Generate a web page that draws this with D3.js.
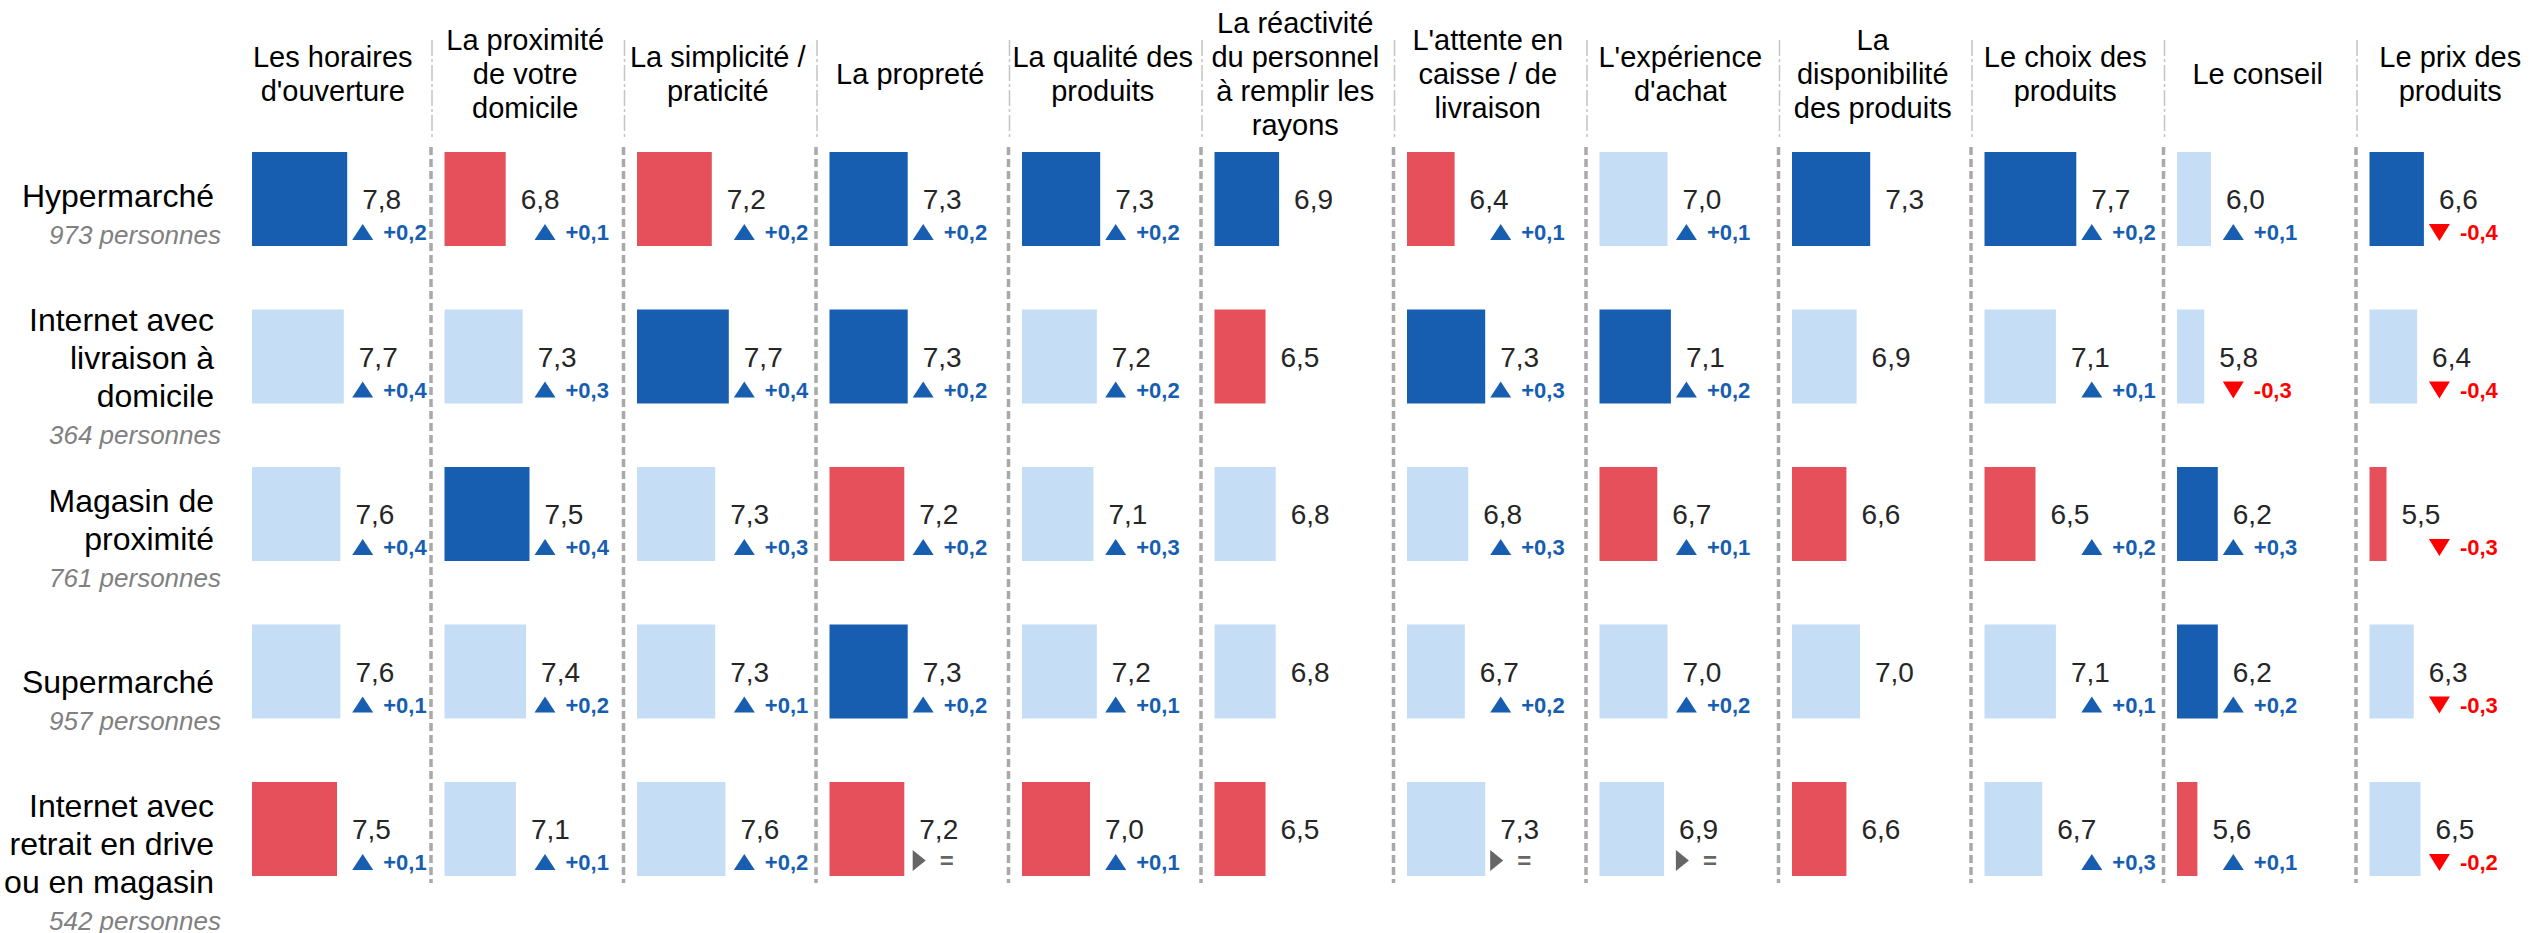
<!DOCTYPE html>
<html>
<head>
<meta charset="utf-8">
<script src="https://cdn.jsdelivr.net/npm/d3@7"></script>
<style>
  body { margin: 0; background: #fff; }
  text { font-family: "Liberation Sans", Arial, sans-serif; }
</style>
</head>
<body>
<div id="chart"></div>
<script>
// criteria (column headers, already split in lines)
const criteria = [
    ["Les horaires", "d'ouverture"],
    ["La proximité", "de votre", "domicile"],
    ["La simplicité /", "praticité"],
    ["La propreté"],
    ["La qualité des", "produits"],
    ["La réactivité", "du personnel", "à remplir les", "rayons"],
    ["L'attente en", "caisse / de", "livraison"],
    ["L'expérience", "d'achat"],
    ["La", "disponibilité", "des produits"],
    ["Le choix des", "produits"],
    ["Le conseil"],
    ["Le prix des", "produits"]
];

// store types (rows)
const storeTypes = [
    ["Hypermarché"],
    ["Internet avec", "livraison à", "domicile"],
    ["Magasin de", "proximité"],
    ["Supermarché"],
    ["Internet avec", "retrait en drive", "ou en magasin"]
];
const respondents = [973, 364, 761, 957, 542];

// scores, one row per store type
const scores = [
    [7.8, 6.8, 7.2, 7.3, 7.3, 6.9, 6.4, 7.0, 7.3, 7.7, 6.0, 6.6],
    [7.7, 7.3, 7.7, 7.3, 7.2, 6.5, 7.3, 7.1, 6.9, 7.1, 5.8, 6.4],
    [7.6, 7.5, 7.3, 7.2, 7.1, 6.8, 6.8, 6.7, 6.6, 6.5, 6.2, 5.5],
    [7.6, 7.4, 7.3, 7.3, 7.2, 6.8, 6.7, 7.0, 7.0, 7.1, 6.2, 6.3],
    [7.5, 7.1, 7.6, 7.2, 7.0, 6.5, 7.3, 6.9, 6.6, 6.7, 5.6, 6.5]
];

// evolution vs previous wave (null = not shown, 0 = stable)
const evolutions = [
    [0.2, 0.1, 0.2, 0.2, 0.2, null, 0.1, 0.1, null, 0.2, 0.1, -0.4],
    [0.4, 0.3, 0.4, 0.2, 0.2, null, 0.3, 0.2, null, 0.1, -0.3, -0.4],
    [0.4, 0.4, 0.3, 0.2, 0.3, null, 0.3, 0.1, null, 0.2, 0.3, -0.3],
    [0.1, 0.2, 0.1, 0.2, 0.1, null, 0.2, 0.2, null, 0.1, 0.2, -0.3],
    [0.1, 0.1, 0.2, 0, 0.1, null, 0, 0, null, 0.3, 0.1, -0.2]
];

// highlight: "top" = best, "low" = worst, "mid" = others
const highlights = [
    ["top", "low", "low", "top", "top", "top", "low", "mid", "top", "top", "mid", "top"],
    ["mid", "mid", "top", "top", "mid", "low", "top", "top", "mid", "mid", "mid", "mid"],
    ["mid", "top", "mid", "low", "mid", "mid", "mid", "low", "low", "low", "top", "low"],
    ["mid", "mid", "mid", "top", "mid", "mid", "mid", "mid", "mid", "mid", "top", "mid"],
    ["low", "mid", "mid", "low", "low", "low", "mid", "mid", "low", "mid", "low", "mid"]
];

const width = 2534, height = 933;
const colors = { top: "#175eb1", mid: "#c6ddf6", low: "#e5505a" };
const upColor = "#175eb1", downColor = "#ff0000", flatColor = "#666666";

const fmt = d3.format(".1f");
const fr = v => fmt(v).replace(".", ",");

const svg = d3.select("#chart")
    .append("svg")
    .attr("width", width)
    .attr("height", height);

// column band (one per criterion) and row band (one per store type)
const col = d3.scaleBand()
    .domain(d3.range(criteria.length))
    .range([238.5, 238.5 + 192.5 * criteria.length]);

const row = d3.scaleBand()
    .domain(d3.range(storeTypes.length))
    .range([152, 876])
    .paddingInner(1 - 94 / 157.5)
    .paddingOuter(0);

const x = d3.scaleLinear().domain([5, 8]).range([0, 102]);

const barOffset = 13.5;

// separators
const seps = d3.range(1, criteria.length);
svg.selectAll(".sep-head")
    .data(seps)
    .join("line")
    .attr("class", "sep-head")
    .attr("x1", i => col(i) + 1).attr("x2", i => col(i) + 1)
    .attr("y1", 40).attr("y2", 138)
    .attr("stroke", "#c4c4c4")
    .attr("stroke-width", 1.5)
    .attr("stroke-dasharray", "16,3,3,3");

svg.selectAll(".sep-body")
    .data(seps)
    .join("line")
    .attr("class", "sep-body")
    .attr("x1", i => col(i)).attr("x2", i => col(i))
    .attr("y1", 147).attr("y2", 883)
    .attr("stroke", "#a9a9a9")
    .attr("stroke-width", 3.5)
    .attr("stroke-dasharray", "8,4");

// headers
const head = svg.selectAll(".head")
    .data(criteria)
    .join("text")
    .attr("class", "head")
    .attr("text-anchor", "middle")
    .attr("font-size", 29)
    .attr("fill", "#000");
head.each(function (lines, i) {
    const cx = col(i) + col.bandwidth() / 2 - 2;
    const first = 84 - (lines.length - 1) * 34 / 2;
    d3.select(this).selectAll("tspan")
        .data(lines)
        .join("tspan")
        .attr("x", cx)
        .attr("y", (d, k) => first + k * 34)
        .text(d => d);
});

// row labels
const labelRight = 214;
storeTypes.forEach((lines, r) => {
    const center = 196 + r * 162;
    const first = center + 11 - (lines.length - 1) * 38 / 2;
    const t = svg.append("text")
        .attr("class", "row-label")
        .attr("text-anchor", "end")
        .attr("font-size", 32)
        .attr("fill", "#000");
    t.selectAll("tspan")
        .data(lines)
        .join("tspan")
        .attr("x", labelRight)
        .attr("y", (d, k) => first + k * 38)
        .text(d => d);
    svg.append("text")
        .attr("x", labelRight + 7)
        .attr("y", first + (lines.length - 1) * 38 + 37)
        .attr("text-anchor", "end")
        .attr("font-size", 26)
        .attr("font-style", "italic")
        .attr("fill", "#808080")
        .text(`${respondents[r]} personnes`);
});

// cells
const cells = [];
scores.forEach((vals, r) => vals.forEach((v, c) => {
    cells.push({ r, c, v, evo: evolutions[r][c], hl: highlights[r][c] });
}));
const colMax = criteria.map((_, c) => d3.max(scores, vals => vals[c]));

const g = svg.selectAll(".cell")
    .data(cells)
    .join("g")
    .attr("class", "cell")
    .attr("transform", d => `translate(${col(d.c) + barOffset},${row(d.r)})`);

g.append("rect")
    .attr("x", 0)
    .attr("y", 0)
    .attr("width", d => x(d.v))
    .attr("height", row.bandwidth())
    .attr("fill", d => colors[d.hl]);

g.append("text")
    .attr("x", d => x(d.v) + 15)
    .attr("y", 57)
    .attr("font-size", 28)
    .attr("fill", "#262626")
    .text(d => fr(d.v));

// evolution marker
const evo = g.filter(d => d.evo !== null)
    .append("g")
    .attr("transform", d => `translate(${x(colMax[d.c]) + 5},88)`);

evo.append("path")
    .attr("d", d => {
        if (d.evo > 0) return "M0,0 L21,0 L10.5,-16 Z";
        if (d.evo < 0) return "M0,-16 L21,-16 L10.5,1 Z";
        return "M0,1 L0,-20 L13,-9.5 Z";
    })
    .attr("fill", d => d.evo > 0 ? upColor : d.evo < 0 ? downColor : flatColor);

evo.append("text")
    .attr("x", d => d.evo === 0 ? 27 : 31)
    .attr("y", d => d.evo === 0 ? -1 : 0)
    .attr("font-size", d => d.evo === 0 ? 24 : 22)
    .attr("font-weight", "bold")
    .attr("fill", d => d.evo > 0 ? upColor : d.evo < 0 ? downColor : flatColor)
    .text(d => d.evo === 0 ? "=" : (d.evo > 0 ? "+" : "-") + fr(Math.abs(d.evo)));
</script>
</body>
</html>
